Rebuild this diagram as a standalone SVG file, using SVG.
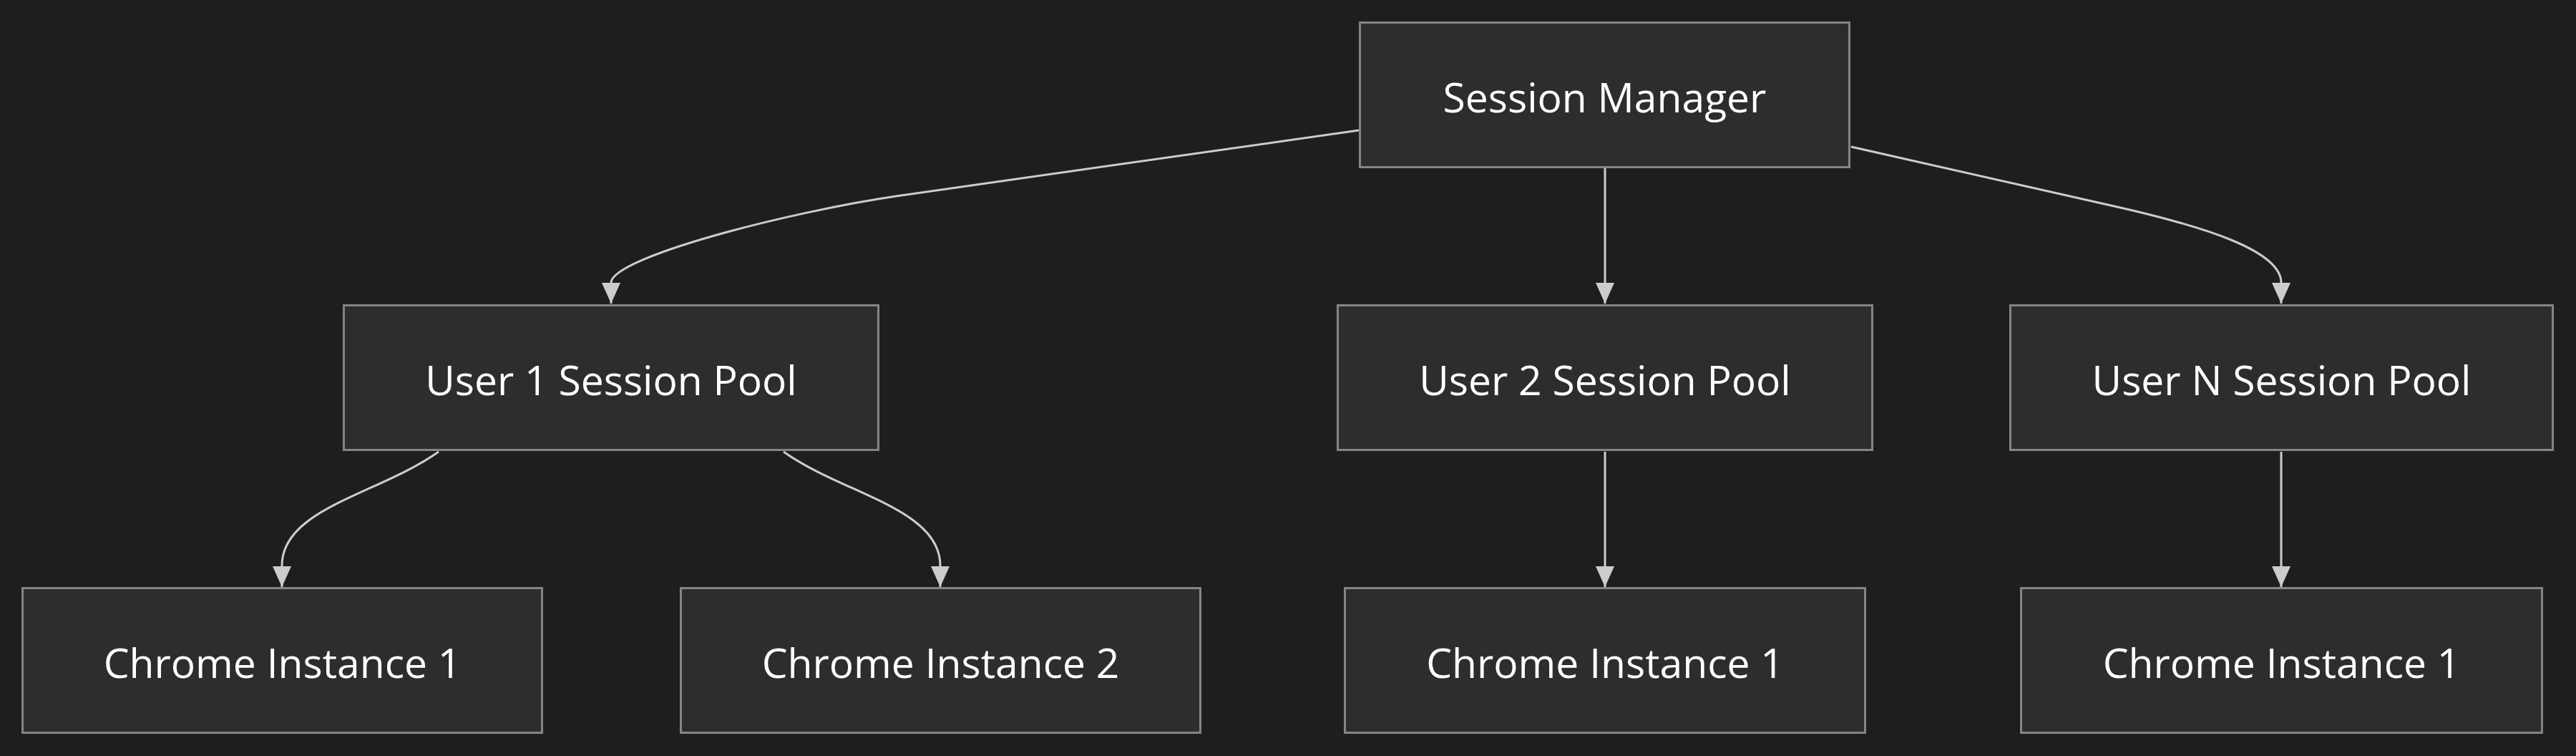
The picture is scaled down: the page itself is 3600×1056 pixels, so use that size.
<svg xmlns="http://www.w3.org/2000/svg" width="3600" height="1056" viewBox="0 0 3600 1056">
<style>
.bg{fill:#1e1e1e}
.node rect{fill:#2d2d2d;stroke:#858585;stroke-width:3}
.node text{fill:#ffffff;font-family:"Open Sans","Noto Sans","Liberation Sans",sans-serif;font-size:57px;text-anchor:middle}
.edge{fill:none;stroke:#cccccc;stroke-width:3}
</style>
<defs>
<marker id="arrow" viewBox="0 0 29 26" refX="29" refY="13" markerWidth="29" markerHeight="26" markerUnits="userSpaceOnUse" orient="auto">
<path d="M0,0 L29,13 L0,26 z" fill="#cccccc"/>
</marker>
</defs>
<rect class="bg" x="0" y="0" width="3600" height="1056"/>
<g id="connectors">
<path class="edge" marker-end="url(#arrow)" d="M1899,182 L1259,273 C1100,296 854,360 854,395 L854,424"/>
<path class="edge" marker-end="url(#arrow)" d="M2243,235 L2243,424"/>
<path class="edge" marker-end="url(#arrow)" d="M2587,205 L2950,287 C3080,316 3188,350 3188,395 L3188,424"/>
<path class="edge" marker-end="url(#arrow)" d="M613,631 C530,690 394,710 394,790 L394,820"/>
<path class="edge" marker-end="url(#arrow)" d="M1095,631 C1178,690 1314,710 1314,790 L1314,820"/>
<path class="edge" marker-end="url(#arrow)" d="M2243,631 L2243,820"/>
<path class="edge" marker-end="url(#arrow)" d="M3188,631 L3188,820"/>
</g>
<g id="session-manager" class="node"><rect x="1900.5" y="31.5" width="684" height="202"/><text x="2242.5" y="156.5">Session Manager</text></g>
<g id="user1-pool" class="node"><rect x="480.5" y="426.5" width="747" height="202"/><text x="854" y="551.5">User 1 Session Pool</text></g>
<g id="user2-pool" class="node"><rect x="1869.5" y="426.5" width="747" height="202"/><text x="2243" y="551.5">User 2 Session Pool</text></g>
<g id="userN-pool" class="node"><rect x="2809.5" y="426.5" width="758" height="202"/><text x="3188.5" y="551.5">User N Session Pool</text></g>
<g id="u1-chrome1" class="node"><rect x="31.5" y="821.5" width="726" height="202"/><text x="394.5" y="946.5">Chrome Instance 1</text></g>
<g id="u1-chrome2" class="node"><rect x="951.5" y="821.5" width="726" height="202"/><text x="1314.5" y="946.5">Chrome Instance 2</text></g>
<g id="u2-chrome1" class="node"><rect x="1879.5" y="821.5" width="727" height="202"/><text x="2243" y="946.5">Chrome Instance 1</text></g>
<g id="uN-chrome1" class="node"><rect x="2824.5" y="821.5" width="728" height="202"/><text x="3188.5" y="946.5">Chrome Instance 1</text></g>
</svg>
